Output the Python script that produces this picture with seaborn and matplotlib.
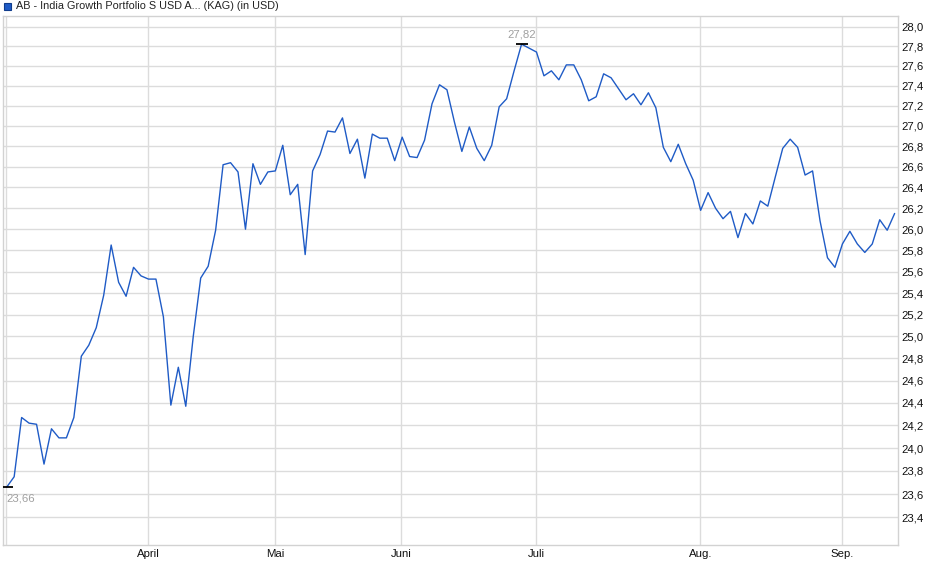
import numpy as np
import pandas as pd
import seaborn as sns
import matplotlib
matplotlib.use("Agg")
import matplotlib.pyplot as plt
from matplotlib.ticker import FixedLocator, FuncFormatter, NullLocator
from matplotlib.patches import Rectangle

title = "AB - India Growth Portfolio S USD A... (KAG) (in USD)"

prices = [
    23.66, 23.75, 24.27, 24.22, 24.21, 23.86, 24.17, 24.09, 24.09, 24.27,
    24.82, 24.92, 25.08, 25.38, 25.85, 25.50, 25.37, 25.64, 25.56, 25.53,
    25.53, 25.18, 24.38, 24.72, 24.37, 25.00, 25.54, 25.65, 25.99, 26.62,
    26.64, 26.55, 26.00, 26.63, 26.43, 26.55, 26.56, 26.81, 26.33, 26.43,
    25.76, 26.56, 26.72, 26.95, 26.94, 27.08, 26.73, 26.87, 26.49, 26.92,
    26.88, 26.88, 26.66, 26.89, 26.70, 26.69, 26.86, 27.22, 27.41, 27.36,
    27.04, 26.75, 26.99, 26.78, 26.66, 26.81, 27.19, 27.27, 27.55, 27.82,
    27.78, 27.74, 27.50, 27.55, 27.46, 27.61, 27.61, 27.46, 27.25, 27.29,
    27.52, 27.48, 27.37, 27.26, 27.32, 27.21, 27.33, 27.18, 26.79, 26.65,
    26.82, 26.63, 26.47, 26.18, 26.35, 26.20, 26.10, 26.17, 25.92, 26.15,
    26.05, 26.27, 26.22, 26.50, 26.78, 26.87, 26.79, 26.52, 26.56, 26.08,
    25.73, 25.64, 25.86, 25.98, 25.86, 25.78, 25.86, 26.09, 25.99, 26.15,
]

month_labels = ["April", "Mai", "Juni", "Juli", "Aug.", "Sep."]
month_pos = [18.98, 36.0, 52.84, 70.93, 92.95, 111.98]

y_ticks = [23.4, 23.6, 23.8, 24.0, 24.2, 24.4, 24.6, 24.8, 25.0, 25.2, 25.4, 25.6,
           25.8, 26.0, 26.2, 26.4, 26.6, 26.8, 27.0, 27.2, 27.4, 27.6, 27.8, 28.0]

LINE = "#1f5bc6"
GRID = "#dcdcdc"

sns.set_theme(style="white")
plt.rcParams["font.family"] = ["Liberation Sans", "DejaVu Sans"]

df = pd.DataFrame({"idx": np.arange(len(prices)), "price": prices})

fig = plt.figure(figsize=(9.4, 5.79), dpi=100)
ax = fig.add_axes([2.7 / 940, (579 - 545.3) / 579, (898.3 - 2.7) / 940, (545.3 - 16) / 579])

ax.set_yscale("log")
sns.lineplot(data=df, x="idx", y="price", color=LINE, linewidth=1.0, ax=ax, legend=False)

ax.set_ylim(23.162, 28.108)
ax.set_xlim(-0.536, 119.49)

ax.yaxis.set_major_locator(FixedLocator(y_ticks))
ax.yaxis.set_minor_locator(NullLocator())
ax.yaxis.set_major_formatter(FuncFormatter(lambda v, p: f"{v:.1f}".replace(".", ",")))
ax.yaxis.tick_right()
ax.set_xticks(month_pos)
ax.set_xticklabels(month_labels)
ax.set_xlabel("")
ax.set_ylabel("")
ax.tick_params(axis="both", length=0, labelsize=8.2, colors="#111111")
ax.tick_params(axis="y", pad=2.5)
ax.tick_params(axis="x", pad=2.5)

ax.grid(True, color=GRID, linewidth=1.0)
ax.axvline(-0.1, color=GRID, linewidth=1.0, zorder=0)
for s in ax.spines.values():
    s.set_visible(True)
    s.set_color("#d2d2d2")
    s.set_linewidth(1.0)

arr = np.array(prices)
imin = int(np.argmin(arr))
imax = int(np.argmax(arr))
for i in (imin, imax):
    ax.plot([i], [arr[i]], marker="_", markersize=9, markeredgewidth=1.3, color="black", zorder=5)

ax.annotate(f"{arr[imin]:.2f}".replace(".", ","), (imin, arr[imin]), xytext=(-0.4, -7.9),
            textcoords="offset points", ha="left", va="center", fontsize=8.2, color="#a0a0a0")
ax.annotate(f"{arr[imax]:.2f}".replace(".", ","), (imax, arr[imax]), xytext=(0, 6.6),
            textcoords="offset points", ha="center", va="center", fontsize=8.2, color="#a0a0a0")

fig.patches.append(Rectangle((3.5 / 940, 1 - 10 / 579), 7 / 940, 7 / 579, transform=fig.transFigure,
                             facecolor=LINE, edgecolor="#103c8c", linewidth=0.8))
fig.text(15.5 / 940, 1 - 6.3 / 579, title, ha="left", va="center", fontsize=7.8, color="#222222")

fig.savefig("out.png", dpi=100)
